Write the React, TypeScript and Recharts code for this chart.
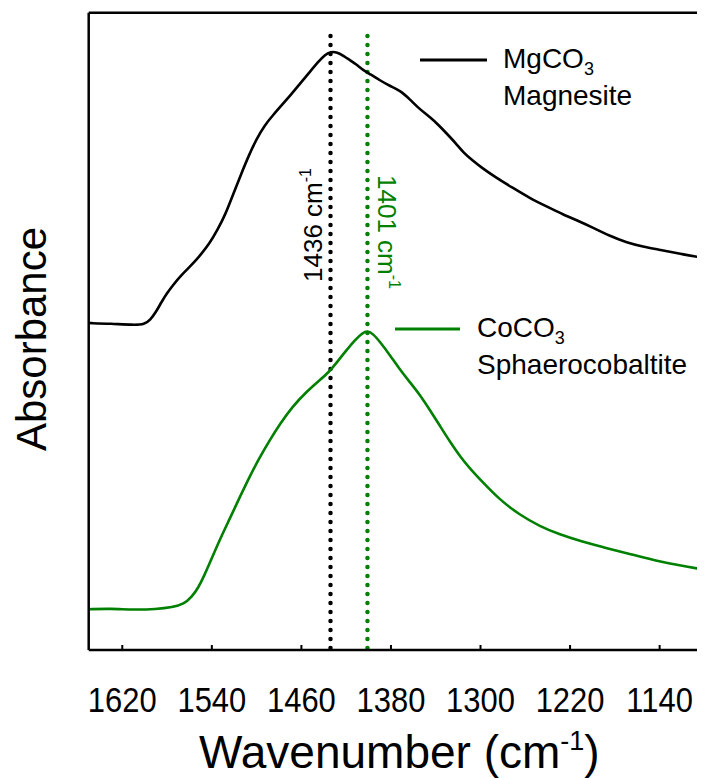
import React from 'react';
import { LineChart, Line, XAxis, YAxis, ReferenceLine, Label } from 'recharts';

const FONT = '"Liberation Sans", Arial, Helvetica, sans-serif';

// MgCO3 (Magnesite) spectrum: wavenumber (cm-1) and absorbance (a.u.)
const mgWavenumber = [1650, 1630, 1610, 1600, 1595, 1590, 1585, 1580, 1575, 1567, 1558, 1550, 1542, 1535, 1528, 1521, 1514, 1507, 1500, 1493, 1485, 1477, 1469, 1461, 1453, 1445, 1439, 1434, 1428, 1422, 1417, 1411, 1405, 1398, 1390, 1381, 1372, 1363, 1354, 1345, 1337, 1330, 1322, 1315, 1307, 1300, 1286, 1271, 1256, 1241, 1226, 1211, 1200, 1185, 1169, 1155, 1140, 1120, 1100];
const mgAbsorbance = [51.3, 51.2, 51.0, 51.1, 51.8, 53.0, 54.6, 56.0, 57.2, 58.9, 60.4, 62.0, 63.8, 65.9, 68.3, 71.5, 74.6, 77.6, 80.2, 82.3, 84.0, 85.6, 87.2, 88.9, 90.6, 92.3, 93.4, 93.9, 93.8, 93.2, 92.6, 91.9, 91.0, 90.3, 89.4, 88.5, 87.8, 86.4, 84.8, 83.6, 82.3, 81.0, 79.5, 78.0, 76.8, 75.8, 74.1, 72.5, 70.9, 69.6, 68.3, 67.2, 66.3, 65.0, 63.9, 63.3, 62.8, 62.1, 61.5];

// CoCO3 (Sphaerocobaltite) spectrum
const coWavenumber = [1650, 1630, 1610, 1590, 1575, 1565, 1558, 1552, 1547, 1542, 1533, 1524, 1515, 1506, 1497, 1488, 1479, 1468, 1455, 1444, 1436, 1428, 1420, 1412, 1405, 1401, 1396, 1390, 1381, 1372, 1363, 1354, 1345, 1336, 1327, 1318, 1309, 1300, 1283, 1265, 1247, 1229, 1211, 1190, 1169, 1140, 1100];
const coAbsorbance = [6.4, 6.5, 6.3, 6.4, 6.7, 7.2, 8.3, 9.8, 11.6, 13.6, 17.3, 20.6, 24.0, 27.3, 30.3, 33.0, 35.5, 38.2, 40.6, 42.3, 43.5, 45.2, 47.0, 48.7, 49.8, 50.1, 49.6, 48.4, 46.3, 44.0, 42.0, 40.0, 37.6, 35.1, 32.6, 30.3, 28.4, 26.7, 23.6, 21.2, 19.4, 18.1, 17.1, 16.1, 15.2, 13.8, 12.6];

const xTicks = [1620, 1540, 1460, 1380, 1300, 1220, 1140];
const xDomain = [1095, 1650];
const yDomain = [0, 100];

const peakMg = 1434;
const peakCo = 1401;
const peakMgLabel = '1436';
const peakCoLabel = '1401';

const mgData = mgWavenumber.map((x, i) => ({ x, y: mgAbsorbance[i] }));
const coData = coWavenumber.map((x, i) => ({ x, y: coAbsorbance[i] }));

const GREEN = '#008000';

const renderTick = (props: any) => {
  const { x, y, payload } = props;
  return (
    <g transform={`translate(${x},${y + 67}) scale(0.86,1)`}>
      <text x={0} y={0} textAnchor="middle" fontSize={36} fontFamily={FONT} fill="#000">
        {payload.value}
      </text>
    </g>
  );
};

const renderMgLabel = (props: any) => {
  const vb = props.viewBox || {};
  const x = vb.x - 9;
  const y = 217;
  return (
    <text x={x} y={y} transform={`rotate(-90 ${x} ${y})`} textAnchor="middle" fontSize={26} fontFamily={FONT} fill="#000">
      {peakMgLabel} cm<tspan dy={-11} fontSize={16}>-1</tspan>
    </text>
  );
};

const renderCoLabel = (props: any) => {
  const vb = props.viewBox || {};
  const x = vb.x + 11;
  const y = 224;
  return (
    <text x={x} y={y} transform={`rotate(90 ${x} ${y})`} textAnchor="middle" fontSize={26} fontFamily={FONT} fill={GREEN}>
      {peakCoLabel} cm<tspan dy={-11} fontSize={16}>-1</tspan>
    </text>
  );
};

const renderXTitle = (props: any) => {
  const vb = props.viewBox || {};
  const cx = vb.x + vb.width / 2;
  const y = vb.y + 118;
  return (
    <text x={cx} y={y} textAnchor="middle" fontSize={46} fontFamily={FONT} fill="#000">
      Wavenumber (cm<tspan dy={-18} fontSize={27}>-1</tspan><tspan dy={18}>)</tspan>
    </text>
  );
};

const renderYTitle = () => {
  const x = 38;
  const y = 331;
  return (
    <text x={x} y={y} transform={`rotate(-90 ${x} ${y})`} textAnchor="middle" fontSize={42} fontFamily={FONT} fill="#000">
      Absorbance
    </text>
  );
};

export default function App() {
  return (
    <div style={{ position: 'relative', width: 697, height: 770, overflow: 'hidden', fontFamily: FONT }}>
      <LineChart
        width={702}
        height={770}
        margin={{ top: 3.7, right: 0, bottom: 0, left: 79.7 }}
      >
        <XAxis
          dataKey="x"
          type="number"
          domain={xDomain}
          reversed
          ticks={xTicks}
          interval={0}
          allowDataOverflow
          height={128}
          axisLine={{ stroke: '#000', strokeWidth: 2.5 }}
          tickLine={{ stroke: '#000', strokeWidth: 2 }}
          tickSize={-5}
          tickMargin={0}
          tick={renderTick}
        >
          <Label content={renderXTitle} />
        </XAxis>
        <XAxis
          xAxisId="top"
          orientation="top"
          dataKey="x"
          type="number"
          domain={xDomain}
          reversed
          ticks={xTicks}
          interval={0}
          allowDataOverflow
          height={1}
          axisLine={{ stroke: '#000', strokeWidth: 2.5 }}
          tickLine={{ stroke: '#000', strokeWidth: 2 }}
          tickSize={-5}
          tick={false}
        />
        <YAxis
          type="number"
          domain={yDomain}
          width={1}
          tick={false}
          tickLine={false}
          axisLine={{ stroke: '#000', strokeWidth: 2.5 }}
        >
          <Label content={renderYTitle} />
        </YAxis>
        <ReferenceLine
          segment={[{ x: peakMg, y: 0.3 }, { x: peakMg, y: 96.5 }]}
          stroke="#000"
          strokeWidth={4.5}
          strokeDasharray="0 9"
          strokeLinecap="round"
          label={renderMgLabel}
        />
        <ReferenceLine
          segment={[{ x: peakCo, y: 0.3 }, { x: peakCo, y: 96.5 }]}
          stroke={GREEN}
          strokeWidth={4.5}
          strokeDasharray="0 9"
          strokeLinecap="round"
          label={renderCoLabel}
        />
        <Line data={mgData} dataKey="y" type="basis" stroke="#000" strokeWidth={2.6} dot={false} isAnimationActive={false} />
        <Line data={coData} dataKey="y" type="basis" stroke={GREEN} strokeWidth={2.6} dot={false} isAnimationActive={false} />
      </LineChart>
      <svg width={697} height={770} style={{ position: 'absolute', left: 0, top: 0, pointerEvents: 'none' }}>
        <line x1={412} y1={52} x2={479} y2={52} stroke="#000" strokeWidth={3} />
        <text x={495} y={60} fontSize={28} fontFamily={FONT} fill="#000">
          MgCO<tspan dy={7} fontSize={18}>3</tspan>
        </text>
        <text x={495} y={97} fontSize={28} fontFamily={FONT} fill="#000">Magnesite</text>
        <line x1={387} y1={321} x2={452} y2={321} stroke={GREEN} strokeWidth={3} />
        <text x={469} y={329} fontSize={28} fontFamily={FONT} fill="#000">
          CoCO<tspan dy={7} fontSize={18}>3</tspan>
        </text>
        <text x={469} y={366} fontSize={28} fontFamily={FONT} fill="#000">Sphaerocobaltite</text>
      </svg>
    </div>
  );
}
